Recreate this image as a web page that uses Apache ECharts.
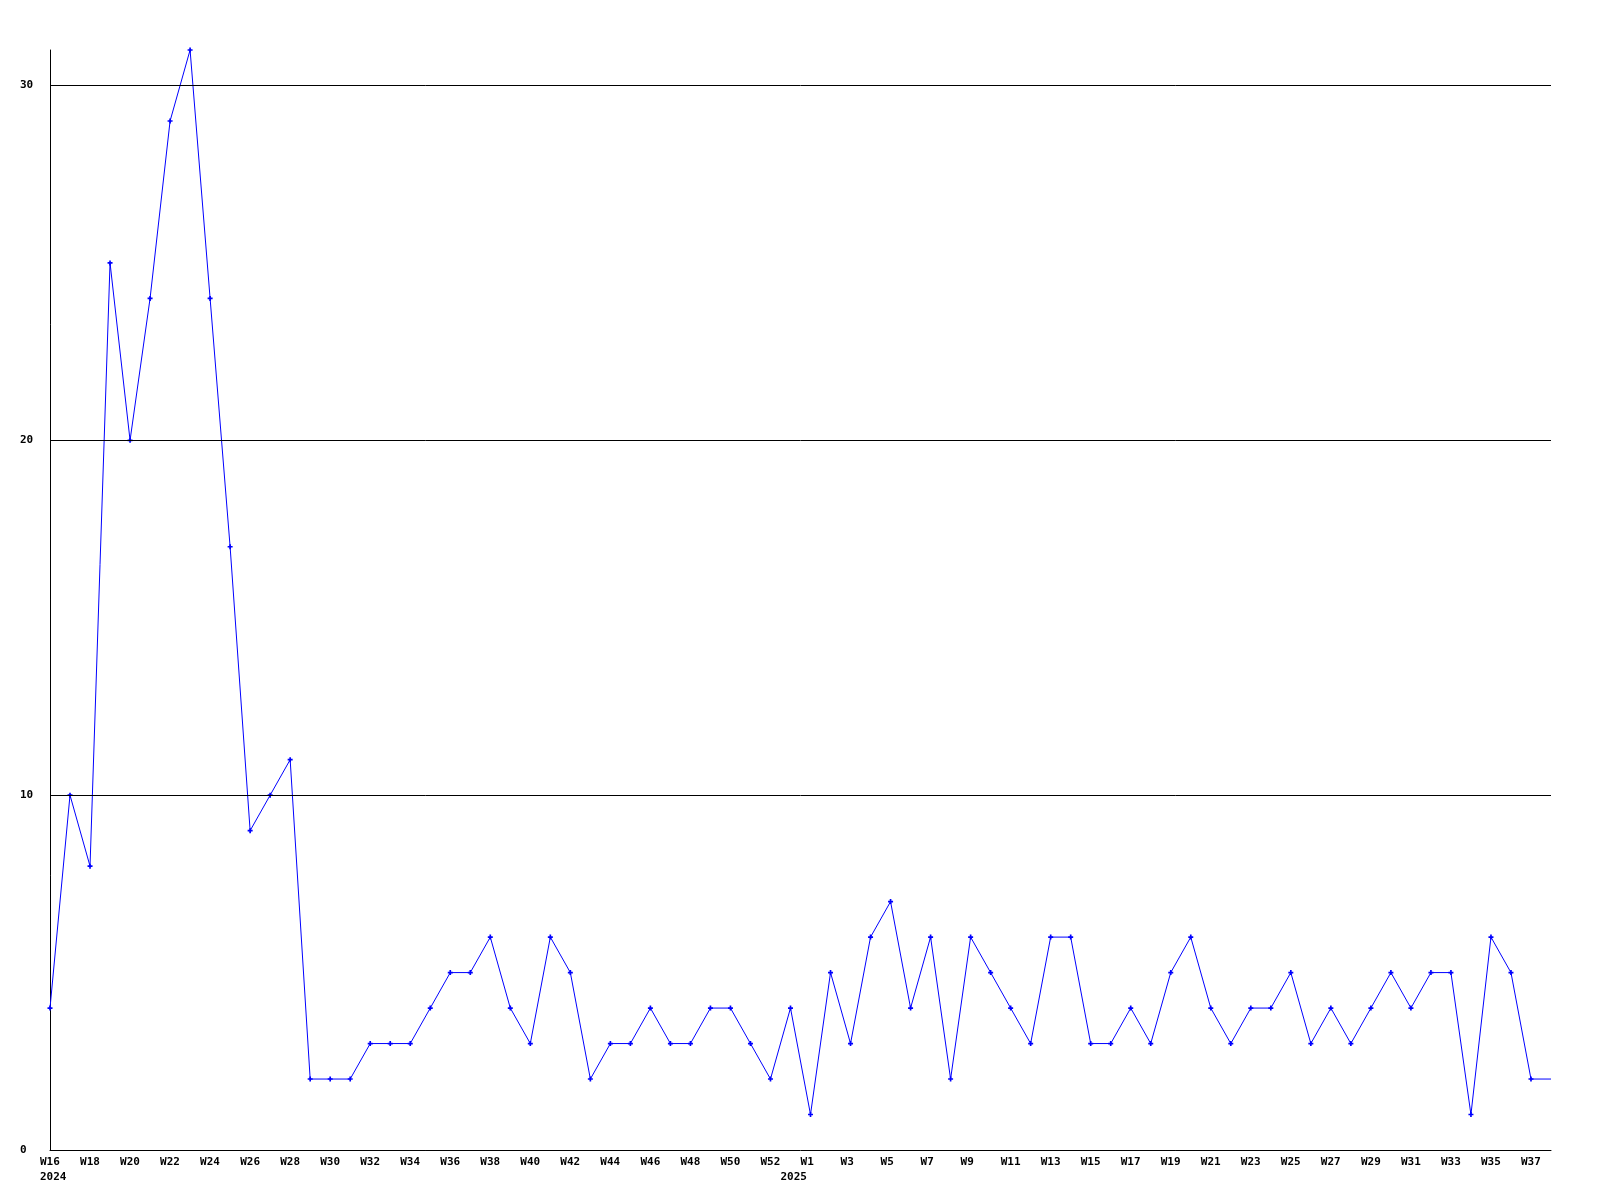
<!DOCTYPE html>
<html>
<head>
<meta charset="utf-8">
<script src="https://cdn.jsdelivr.net/npm/echarts@6/dist/echarts.min.js"></script>
<style>
html,body{margin:0;padding:0;background:#fff;}
#chart{width:1600px;height:1200px;}
</style>
</head>
<body>
<div id="chart"></div>
<script>
// Week categories: W16..W52 of 2024, one extra week at the year turn, then W1..W38 of 2025
const weeks2024 = ['W16','W17','W18','W19','W20','W21','W22','W23','W24','W25','W26','W27','W28','W29','W30','W31','W32','W33','W34','W35','W36','W37','W38','W39','W40','W41','W42','W43','W44','W45','W46','W47','W48','W49','W50','W51','W52'];
const weekTurn = ['W53'];
const weeks2025 = ['W1','W2','W3','W4','W5','W6','W7','W8','W9','W10','W11','W12','W13','W14','W15','W16','W17','W18','W19','W20','W21','W22','W23','W24','W25','W26','W27','W28','W29','W30','W31','W32','W33','W34','W35','W36','W37','W38'];

const values2024 = [4,10,8,25,20,24,29,31,24,17,9,10,11,2,2,2,3,3,3,4,5,5,6,4,3,6,5,2,3,3,4,3,3,4,4,3,2];
const valuesTurn = [4];
const values2025 = [1,5,3,6,7,4,6,2,6,5,4,3,6,6,3,3,4,3,5,6,4,3,4,4,5,3,4,3,4,5,4,5,5,1,6,5,2,2];

// Year labels shown under the week labels (category index -> year)
const yearIndex = [0, 37];
const yearText = ['2024', '2025'];

const gridValues = [10, 20, 30];
const yMin = 0, yMax = 31, yInterval = 10;

const categories = weeks2024.concat(weekTurn, weeks2025);
const values = values2024.concat(valuesTurn, values2025);

const plusPath = 'path://M1,0H2V1H3V2H2V3H1V2H0V1H1Z';
const FONT = '"DejaVu Sans Mono", "Liberation Mono", monospace';

const chart = echarts.init(document.getElementById('chart'), null, {renderer: 'canvas'});
chart.setOption({
  animation: false,
  backgroundColor: '#ffffff',
  grid: {left: 50, right: 49, top: 50, bottom: 50, containLabel: false},
  xAxis: {
    type: 'category',
    data: categories,
    boundaryGap: false,
    axisLine: {show: true, lineStyle: {color: '#000', width: 1}},
    axisTick: {show: false},
    splitLine: {show: false},
    axisLabel: {
      interval: function (index) { return index % 2 === 0 || yearIndex.indexOf(index) >= 0; },
      margin: 5,
      align: 'center',
      formatter: function (value, index) {
        const yi = yearIndex.indexOf(index);
        const top = index % 2 === 0 ? value : '\u00a0';
        if (yi >= 0) return '{w|' + top + '}\n{y|' + yearText[yi] + '}';
        return '{w|' + top + '}';
      },
      rich: {
        w: {fontFamily: FONT, fontWeight: 'bold', fontSize: 11, color: '#000', lineHeight: 15, width: 20, align: 'left'},
        y: {fontFamily: FONT, fontWeight: 'bold', fontSize: 11, color: '#000', lineHeight: 15, width: 20, align: 'left'}
      }
    }
  },
  yAxis: {
    type: 'value',
    min: yMin,
    max: yMax,
    interval: yInterval,
    axisLine: {show: true, lineStyle: {color: '#000', width: 1}},
    axisTick: {show: false},
    splitLine: {show: false},
    axisLabel: {
      margin: 30,
      align: 'left',
      fontFamily: FONT,
      fontWeight: 'bold',
      fontSize: 11,
      color: '#000',
      formatter: function (v) { return v % yInterval === 0 ? String(v) : ''; }
    }
  },
  series: [{
    type: 'line',
    data: values,
    color: '#0000ff',
    lineStyle: {color: '#0000ff', width: 1},
    itemStyle: {color: '#0000ff'},
    symbol: function (v, params) { return params.dataIndex === values.length - 1 ? 'none' : plusPath; },
    symbolSize: 5,
    showAllSymbol: true,
    clip: true,
    emphasis: {disabled: true},
    markLine: {
      silent: true,
      symbol: ['none', 'none'],
      label: {show: false},
      lineStyle: {color: '#000', width: 1, type: 'solid'},
      emphasis: {disabled: true},
      data: gridValues.map(function (v) { return {yAxis: v}; })
    }
  }]
});
</script>
</body>
</html>
